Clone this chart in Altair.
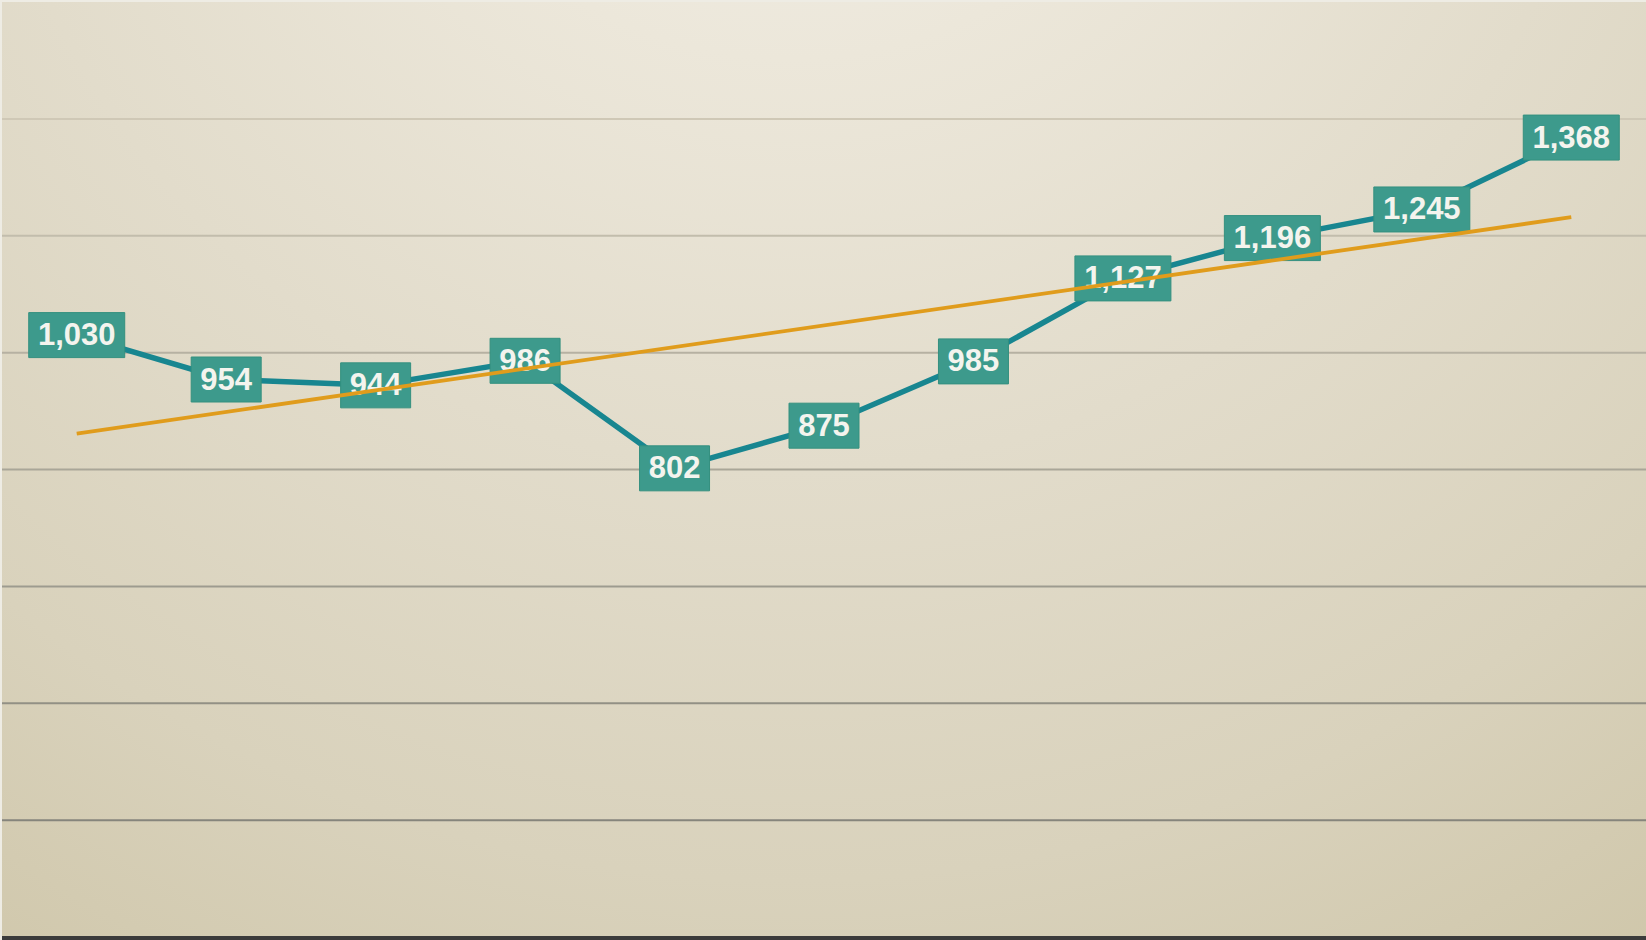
import altair as alt
import pandas as pd

# ---- data ----
POSITIONS = [0, 1, 2, 3, 4, 5, 6, 7, 8, 9, 10]
VALUES = [1030, 954, 944, 986, 802, 875, 985, 1127, 1196, 1245, 1368]
GRID_VALUES = [200, 400, 600, 800, 1000, 1200, 1400]
Y_DOMAIN = [0, 1600]

W, H = 1644, 935

df = pd.DataFrame({"idx": POSITIONS, "value": VALUES})

xs = alt.Scale(domain=[-0.5, 10.5], nice=False, zero=False)
ys = alt.Scale(domain=Y_DOMAIN, nice=False)

base = alt.Chart(df)
one = base.transform_filter("datum.idx == 0")

grad = {
    "gradient": "radial",
    "x1": 0.48, "y1": 0.0, "r1": 0.0,
    "x2": 0.48, "y2": 0.0, "r2": 1.0,
    "stops": [
        {"offset": 0.0, "color": "#f4f2ec"},
        {"offset": 0.25, "color": "#ece7da"},
        {"offset": 0.5, "color": "#e2dccb"},
        {"offset": 0.75, "color": "#d9d2bc"},
        {"offset": 1.0, "color": "#cdc4a6"},
    ],
}

bg = one.mark_rect(color=grad).encode(
    x=alt.value(0), x2=alt.value(W), y=alt.value(0), y2=alt.value(H)
)

grid = alt.Chart(pd.DataFrame({"g": GRID_VALUES})).mark_rule(strokeWidth=2).encode(
    y=alt.Y("g:Q", scale=ys, axis=None),
    color=alt.Color("g:Q", scale=alt.Scale(domain=[200, 1400], range=["#86857c", "#cfc8b6"]), legend=None),
)

baseline = one.mark_rule(strokeWidth=4, color="#3b3b3b").encode(
    x=alt.value(0), x2=alt.value(W), y=alt.value(H + 1)
)

line = base.mark_line(color="#188690", strokeWidth=5.5).encode(
    x=alt.X("idx:Q", scale=xs, axis=None),
    y=alt.Y("value:Q", scale=ys, axis=None),
)

box_long = base.transform_filter("datum.value >= 1000").mark_rect(
    width=96, height=45, color="#3d9a8c", stroke="#34907f", strokeWidth=1
).encode(x=alt.X("idx:Q", scale=xs), y=alt.Y("value:Q", scale=ys))

box_short = base.transform_filter("datum.value < 1000").mark_rect(
    width=70, height=45, color="#3d9a8c", stroke="#34907f", strokeWidth=1
).encode(x=alt.X("idx:Q", scale=xs), y=alt.Y("value:Q", scale=ys))

labels = base.mark_text(
    font="Liberation Sans", fontWeight="bold", fontSize=31, color="#f4f4ee",
    align="center", baseline="middle", dy=1
).encode(
    x=alt.X("idx:Q", scale=xs),
    y=alt.Y("value:Q", scale=ys),
    text=alt.Text("value:Q", format=","),
)

trend = base.transform_regression("idx", "value").mark_line(
    color="#e09c1c", strokeWidth=3.8
).encode(x=alt.X("idx:Q", scale=xs), y=alt.Y("value:Q", scale=ys))

chart = alt.layer(bg, grid, baseline, line, box_long, box_short, labels, trend).properties(
    width=W, height=H,
    autosize=alt.AutoSizeParams(type="none"),
    padding={"left": 2, "top": 2, "right": 0, "bottom": 3},
    background="#eeece4",
).configure_view(stroke=None)

chart.save("out.html", embed_options={"renderer": "svg", "actions": False})
